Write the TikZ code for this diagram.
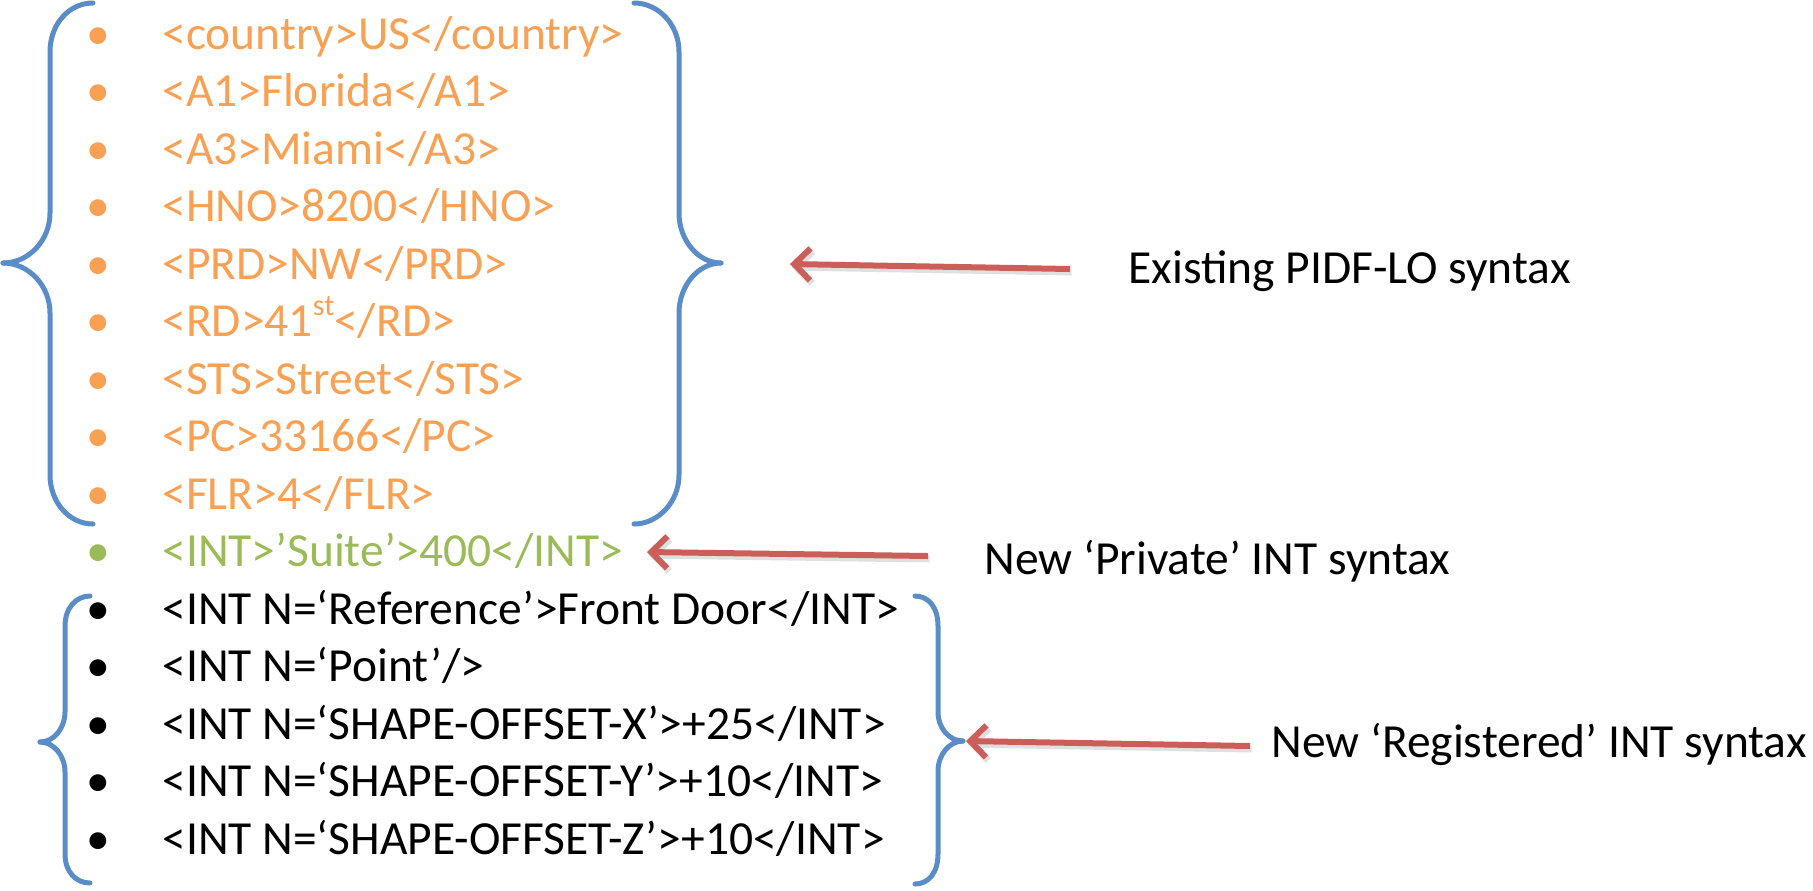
\documentclass[tikz,border=0pt]{standalone}
\usepackage{fontspec}
\setmainfont{Carlito}
\usetikzlibrary{arrows.meta}
\definecolor{orng}{HTML}{F8A155}
\definecolor{grn}{HTML}{9BBB59}
\definecolor{brc}{HTML}{5A8DC8}
\definecolor{arr}{HTML}{CB5E59}
\begin{document}
\begin{tikzpicture}[x=0.5pt,y=-0.5pt,
  txt/.style={inner sep=0pt,font=\fontsize{23.75}{28}\selectfont},
  item/.style={txt,anchor=base west},
  bul/.style={txt,anchor=base},
  lab/.style={txt,anchor=base west,text=black},
  brace/.style={draw=brc,line width=2.5pt,line cap=round,line join=round},
  ptr/.style={draw=arr,line width=3pt,-{Straight Barb[length=8pt,width=16pt]},
    preaction={draw=black,opacity=0.12,line width=3.5pt,transform canvas={shift={(0.8pt,-1.5pt)}}}},
]
\useasboundingbox (0,0) rectangle (1813,890);

% list items
\node[item,text=orng] (r0) at (162,49) {<country>US</country>};
\node[item,text=orng] (r1) at (162,106.5) {<A1>Florida</A1>};
\node[item,text=orng] (r2) at (162,164) {<A3>Miami</A3>};
\node[item,text=orng] (r3) at (162,221.5) {<HNO>8200</HNO>};
\node[item,text=orng] (r4) at (162,279) {<PRD>NW</PRD>};
\node[item,text=orng] (r5) at (162,336.5) {<RD>41\raisebox{0.45em}{\fontsize{15}{15}\selectfont st}</RD>};
\node[item,text=orng] (r6) at (162,394) {<STS>Street</STS>};
\node[item,text=orng] (r7) at (162,451.5) {<PC>33166</PC>};
\node[item,text=orng] (r8) at (162,509) {<FLR>4</FLR>};
\node[item,text=grn] (r9) at (162,566.5) {<INT>’Suite’>400</INT>};
\node[item,text=black] (r10) at (162,624) {<INT N=‘Reference’>Front Door</INT>};
\node[item,text=black] (r11) at (162,681.5) {<INT N=‘Point’/>};
\node[item,text=black] (r12) at (162,739) {<INT N=‘SHAPE-OFFSET-X’>+25</INT>};
\node[item,text=black] (r13) at (162,796.5) {<INT N=‘SHAPE-OFFSET-Y’>+10</INT>};
\node[item,text=black] (r14) at (162,854) {<INT N=‘SHAPE-OFFSET-Z’>+10</INT>};

% bullets
\foreach \i in {0,...,8} {\node[bul,text=orng] (b\i) at (98,{49+57.5*\i}) {•};}
\node[bul,text=grn] (b9) at (98,566.5) {•};
\foreach \i in {10,...,14} {\node[bul,text=black] (b\i) at (98,{49+57.5*\i}) {•};}

% braces (each drawn as two halves meeting at the tip)
\draw[brace] (93,3) .. controls (69,3) and (50,24) .. (50,52) -- (50,213)
  .. controls (50,240) and (29,263) .. (3,263);
\draw[brace] (3,263) .. controls (29,263) and (50,286) .. (50,313) -- (50,475)
  .. controls (50,502) and (69,524) .. (93,524);
\draw[brace] (634,3) .. controls (658,3) and (679,24) .. (679,52) -- (679,213)
  .. controls (679,240) and (698,263) .. (721,263);
\draw[brace] (721,263) .. controls (698,263) and (679,286) .. (679,313) -- (679,475)
  .. controls (679,502) and (658,524) .. (634,524);
\draw[brace] (90,596) .. controls (76,596) and (65,608) .. (65,626) -- (65,712)
  .. controls (65,728) and (54,742) .. (40,742);
\draw[brace] (40,742) .. controls (54,742) and (65,756) .. (65,772) -- (65,854)
  .. controls (65,872) and (76,883) .. (90,883);
\draw[brace] (915,596) .. controls (929,596) and (938,608) .. (938,626) -- (938,712)
  .. controls (938,728) and (949,741) .. (963,741);
\draw[brace] (963,741) .. controls (949,741) and (938,755) .. (938,771) -- (938,854)
  .. controls (938,872) and (929,884) .. (915,884);

% labels
\node[lab] (l1) at (1128,283) {Existing PIDF-LO syntax};
\node[lab] (l2) at (984,574) {New ‘Private’ INT syntax};
\node[lab] (l3) at (1271,757) {New ‘Registered’ INT syntax};

% arrow ends
\coordinate (t1) at (1070,269); \coordinate (h1) at (790,264);
\coordinate (t2) at (928,556);  \coordinate (h2) at (647,552);
\coordinate (t3) at (1250,746); \coordinate (h3) at (966,741);
\draw[ptr] (t1) -- (h1);
\draw[ptr] (t2) -- (h2);
\draw[ptr] (t3) -- (h3);
\end{tikzpicture}
\end{document}
